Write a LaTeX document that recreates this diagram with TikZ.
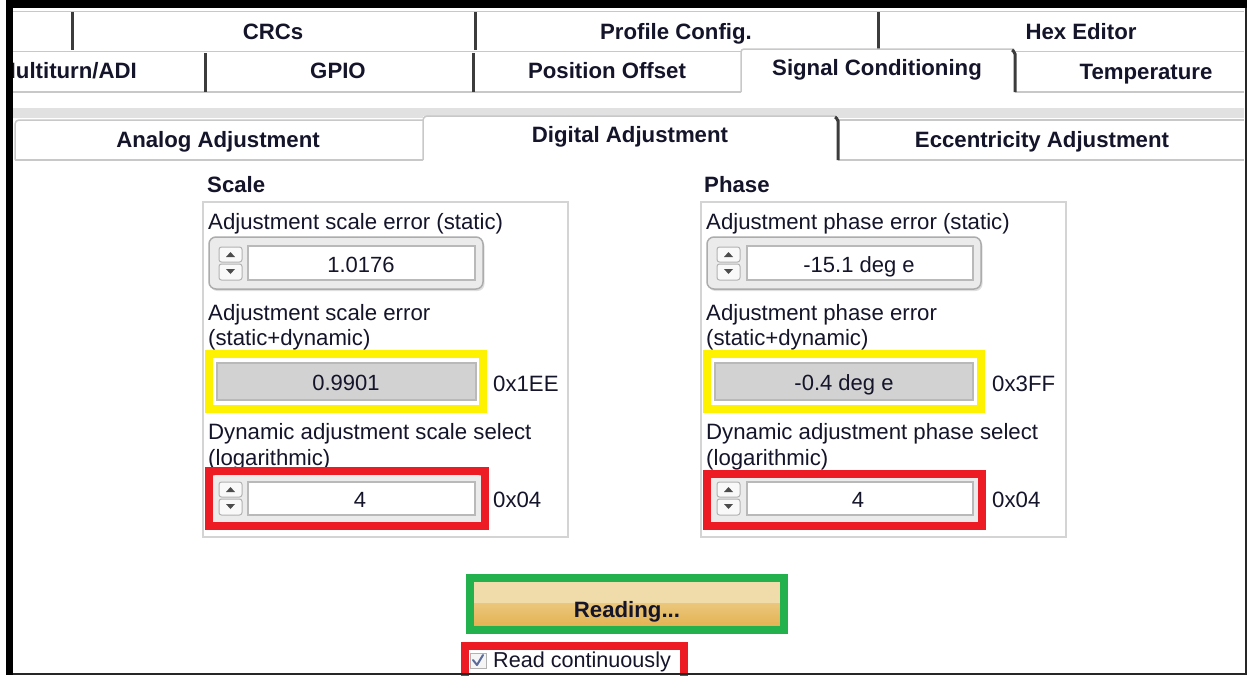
\documentclass[tikz,border=0pt]{standalone}
\usepackage{fontspec}
\setmainfont{Liberation Sans}
\usetikzlibrary{shadows}
\definecolor{txt}{HTML}{14142A}
\definecolor{tabgray}{HTML}{C8C8C8}
\definecolor{sepdark}{HTML}{3C3C3C}
\definecolor{bandgray}{HTML}{E1E1E1}
\definecolor{grpgray}{HTML}{D4D4D4}
\definecolor{hlyellow}{HTML}{FFF200}
\definecolor{hlred}{HTML}{ED1C24}
\definecolor{hlgreen}{HTML}{22B14C}
\definecolor{indfill}{HTML}{D2D2D2}
\definecolor{btnlight}{HTML}{F0DCAA}
\definecolor{btnmid}{HTML}{EBC67C}
\definecolor{btndark}{HTML}{E4B352}
\definecolor{chk}{HTML}{5A6A9A}
\tikzset{
  tabtxt/.style={font=\bfseries\fontsize{22.2}{24}\selectfont, text=txt, inner sep=0pt, anchor=base},
  body/.style={font=\fontsize{22.2}{26}\selectfont, text=txt, inner sep=0pt, anchor=base west},
  val/.style={font=\fontsize{22}{26}\selectfont, text=txt, inner sep=0pt, anchor=base},
  head/.style={font=\bfseries\fontsize{22.2}{24}\selectfont, text=txt, inner sep=0pt, anchor=base west},
  tabline/.style={draw=tabgray, line width=1.5pt},
  sepline/.style={draw=sepdark, line width=3pt},
  grpbox/.style={draw=grpgray, line width=1.5pt},
  ctrlouter/.style={draw=gray!65, fill=gray!16, line width=1.5pt, rounded corners=7pt,
     drop shadow={shadow xshift=1.5pt, shadow yshift=-2pt, opacity=.25}},
  ctrlflat/.style={draw=gray!60, fill=gray!16, line width=1.5pt, rounded corners=5pt},
  spinbtn/.style={draw=gray!60, fill=gray!5, line width=1pt, rounded corners=2.5pt},
  field/.style={draw=gray!55, fill=white, line width=2pt},
  indic/.style={draw=gray!55, fill=indfill, line width=2pt},
  hly/.style={draw=hlyellow, line width=8pt},
  hlr/.style={draw=hlred, line width=8pt},
  hlg/.style={draw=hlgreen, line width=8pt},
  arr/.style={fill=gray!60!black},
}
\begin{document}
\begin{tikzpicture}[x=1pt,y=-1pt]
\useasboundingbox (0,0) rectangle (1247,675);
\fill[white] (0,0) rectangle (1247,675);

% ---------- tab row 1
\draw[tabline] (13,11.5) -- (1244,11.5);
\draw[tabline] (13,51.5) -- (1244,51.5);
\draw[sepline] (72,12) -- (72,50);
\draw[sepline] (475,12) -- (475,50);
\draw[sepline] (878,12) -- (878,50);
\node[tabtxt] (tcrc) at (273,39) {CRCs};
\node[tabtxt] (tprof) at (676,39) {Profile Config.};
\node[tabtxt] (thex) at (1081,39) {Hex Editor};

% ---------- tab row 2
\fill[white] (741,49) rectangle (1014,93);
\draw[tabline] (13,92) -- (741,92);
\draw[tabline] (1015,92) -- (1244,92);
\draw[tabline, rounded corners=3pt] (741,92) -- (741,49) -- (1014,49);
\draw[sepline] (205,53) -- (205,92);
\draw[sepline] (473,53) -- (473,92);
\draw[sepline, rounded corners=2pt] (1012,50) -- (1015,52) -- (1015,92);
\begin{scope}
  \clip (13,52) rectangle (205,92);
  \node[tabtxt, anchor=base east] (tmulti) at (137,78) {Multiturn/ADI};
\end{scope}
\node[tabtxt] (tgpio) at (338,78) {GPIO};
\node[tabtxt] (tpos) at (607,78) {Position Offset};
\node[tabtxt] (tsig) at (877,75) {Signal Conditioning};
\node[tabtxt] (ttemp) at (1146,79) {Temperature};

% ---------- band and subtabs
\fill[bandgray] (13,108) rectangle (1244,118);
\fill[white] (423,116) rectangle (838,160);
\fill[white] (15,120) rectangle (423,160);
\fill[white] (838,120) rectangle (1244,160);
\draw[tabline, rounded corners=4pt] (15,160) -- (15,120) -- (423,120);
\draw[tabline] (15,160) -- (423,160);
\draw[tabline, rounded corners=4pt] (423,160) -- (423,116) -- (836,116);
\draw[tabline] (838,120) -- (1244,120);
\draw[tabline] (838,160) -- (1244,160);
\draw[sepline, rounded corners=2pt] (835,117) -- (838,119) -- (838,160);
\node[tabtxt] (tana) at (218,147) {Analog Adjustment};
\node[tabtxt] (tdig) at (630,142) {Digital Adjustment};
\node[tabtxt] (tecc) at (1042,147) {Eccentricity Adjustment};

% ---------- outer frame
\fill[black] (6,0) rectangle (1247,8);
\fill[black] (6,0) rectangle (13,675);
\draw[draw=gray!30!black, line width=2pt] (1245.5,8) -- (1245.5,674);

% ---------- Scale group
\node[head] (hscale) at (207,192) {Scale};
\draw[grpbox] (203,202) rectangle (568,537);
\node[body] (ls1) at (208,229) {Adjustment scale error (static)};
\draw[ctrlouter] (209,237) rectangle (483,289);
\draw[spinbtn] (219,247) rectangle (242,262);
\draw[spinbtn] (219,264) rectangle (242,280);
\fill[arr] (226,257) -- (235,257) -- (230.5,252) -- cycle;
\fill[arr] (226,269) -- (235,269) -- (230.5,274) -- cycle;
\draw[field] (248,246) rectangle (475,280);
\node[val] (vs1) at (361,272) {1.0176};

\node[body] (ls2a) at (208,320) {Adjustment scale error};
\node[body] (ls2b) at (208,345) {(static+dynamic)};
\draw[indic] (217,363) rectangle (476,400);
\draw[hly] (209,354) rectangle (483,409);
\node[val] (vs2) at (346,390) {0.9901};
\node[body] (hs2) at (493,391) {0x1EE};

\node[body] (ls3a) at (208,439) {Dynamic adjustment scale select};
\node[body] (ls3b) at (208,465) {(logarithmic)};
\draw[ctrlflat] (211,474) rectangle (483,524);
\draw[spinbtn] (219,482) rectangle (242,497);
\draw[spinbtn] (219,499) rectangle (242,515);
\fill[arr] (226,492) -- (235,492) -- (230.5,487) -- cycle;
\fill[arr] (226,504) -- (235,504) -- (230.5,509) -- cycle;
\draw[field] (248,482) rectangle (475,515);
\draw[hlr] (209,471) rectangle (485,526);
\node[val] (vs3) at (360,507) {4};
\node[body] (hs3) at (493,507) {0x04};

% ---------- Phase group
\node[head] (hphase) at (704,192) {Phase};
\draw[grpbox] (701,202) rectangle (1066,537);
\node[body] (lp1) at (706,229) {Adjustment phase error (static)};
\draw[ctrlouter] (707,237) rectangle (981,289);
\draw[spinbtn] (717,247) rectangle (740,262);
\draw[spinbtn] (717,264) rectangle (740,280);
\fill[arr] (724,257) -- (733,257) -- (728.5,252) -- cycle;
\fill[arr] (724,269) -- (733,269) -- (728.5,274) -- cycle;
\draw[field] (747,246) rectangle (973,280);
\node[val] (vp1) at (859,272) {-15.1 deg e};

\node[body] (lp2a) at (706,320) {Adjustment phase error};
\node[body] (lp2b) at (706,345) {(static+dynamic)};
\draw[indic] (715,363) rectangle (973,400);
\draw[hly] (707,354) rectangle (981,409);
\node[val] (vp2) at (844,390) {-0.4 deg e};
\node[body] (hp2) at (992,391) {0x3FF};

\node[body] (lp3a) at (706,439) {Dynamic adjustment phase select};
\node[body] (lp3b) at (706,465) {(logarithmic)};
\draw[ctrlflat] (709,476) rectangle (981,524);
\draw[spinbtn] (717,482) rectangle (740,497);
\draw[spinbtn] (717,499) rectangle (740,515);
\fill[arr] (724,492) -- (733,492) -- (728.5,487) -- cycle;
\fill[arr] (724,504) -- (733,504) -- (728.5,509) -- cycle;
\draw[field] (747,482) rectangle (973,515);
\draw[hlr] (707,474) rectangle (982,526);
\node[val] (vp3) at (858,507) {4};
\node[body] (hp3) at (992,507) {0x04};

% ---------- Reading button
\fill[black!12] (476,584) rectangle (783,629);
\fill[btnlight] (474,582) rectangle (780,603);
\shade[top color=btnmid, bottom color=btndark] (474,603) rectangle (780,626);
\draw[hlg] (470,578) rectangle (784,630);
\node[tabtxt] (bread) at (627,617) {Reading...};

% ---------- Read continuously
\draw[hlr] (465,676) -- (465,646) -- (684,646) -- (684,676);
\draw[draw=gray!60, fill=gray!8, line width=1pt] (470,653) rectangle (486,668);
\draw[chk, line width=2pt, line cap=round, line join=round] (473,660) -- (477,665) -- (483,655);
\node[body, font=\fontsize{21.6}{24}\selectfont] (rc) at (493,667) {Read continuously};
\draw[draw=gray!30!black, line width=2pt] (13,673.5) -- (1247,673.5);
\end{tikzpicture}
\end{document}
